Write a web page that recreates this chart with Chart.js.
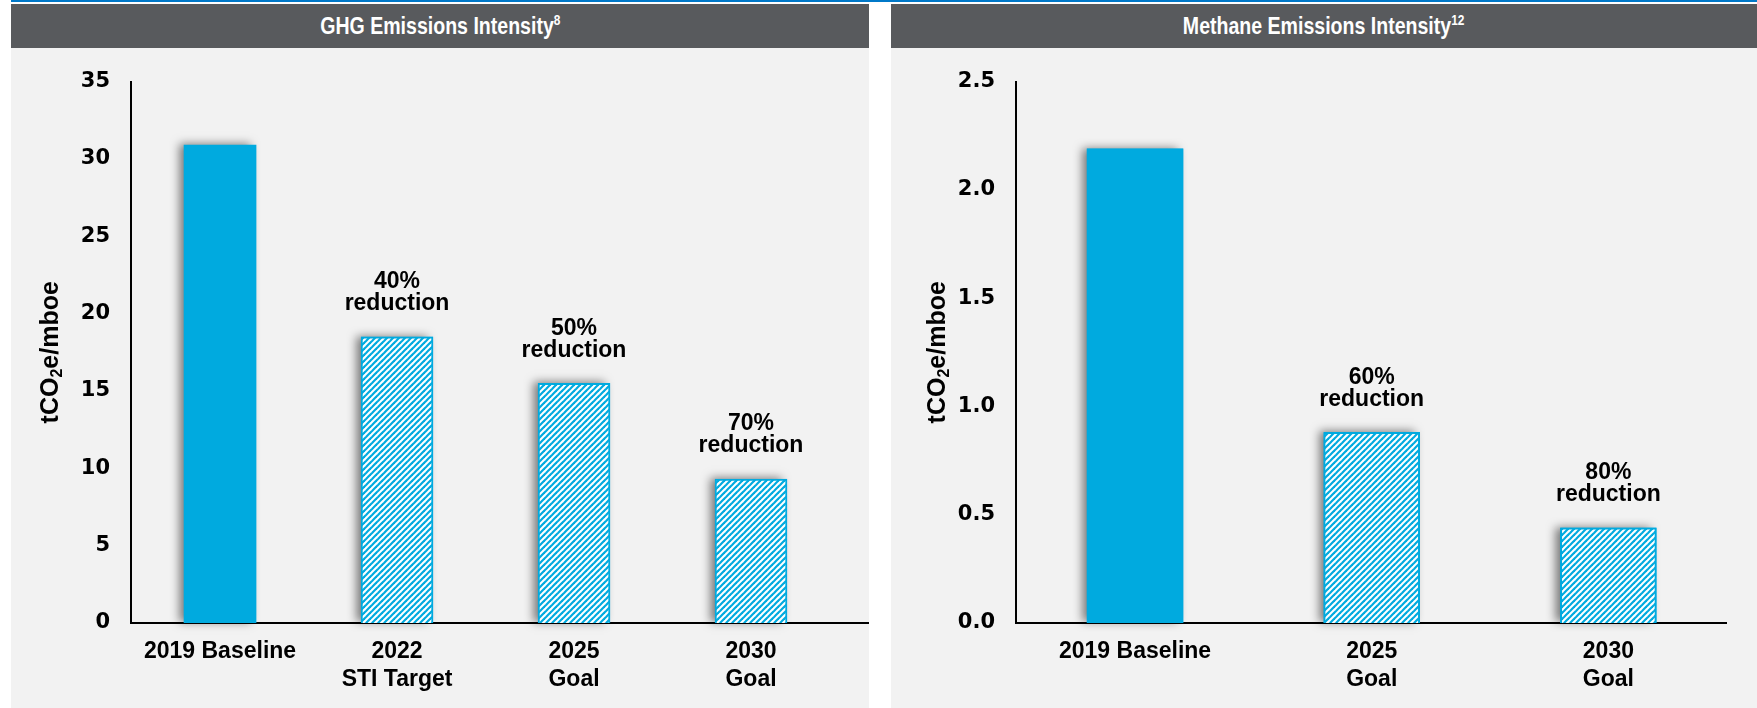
<!DOCTYPE html>
<html>
<head>
<meta charset="utf-8">
<script src="https://cdn.jsdelivr.net/npm/chart.js@4.4.1/dist/chart.umd.min.js"></script>
<style>
  body { margin: 0; width: 1757px; height: 708px; background: #fff; position: relative; overflow: hidden;
         font-family: "Liberation Sans", Arial, sans-serif; }
  #topline { position: absolute; left: 11px; top: 0; width: 1746px; height: 2px; background: #0078c8; }
  .head { position: absolute; top: 4px; height: 44px; background: #585a5d; color: #fff; font-weight: bold;
          font-size: 23px; line-height: 44px; text-align: center; }
  .head span { display: inline-block; transform: scaleX(0.85); }
  .head sup { font-size: 14px; line-height: 0; vertical-align: 9px; }
  .panel { position: absolute; top: 48px; height: 660px; background: #f2f2f2; }
  .panel canvas { position: absolute; left: 0; top: 0; }
</style>
</head>
<body>
<div id="topline"></div>
<div class="head" style="left:11px;width:858px"><span>GHG Emissions Intensity<sup>8</sup></span></div>
<div class="head" style="left:891px;width:866px"><span>Methane Emissions Intensity<sup>12</sup></span></div>
<div class="panel" style="left:11px;width:858px"><canvas id="ghg" width="858" height="660"></canvas></div>
<div class="panel" style="left:891px;width:866px"><canvas id="methane" width="866" height="660"></canvas></div>
<script>
// GHG intensity, tCO2e/mboe
const ghgCategories = [["2019 Baseline"], ["2022", "STI Target"], ["2025", "Goal"], ["2030", "Goal"]];
const ghgValues = [30.9, 18.5, 15.5, 9.3];
const ghgReductions = ["", "40%", "50%", "70%"];

// Methane intensity, tCO2e/mboe
const methaneCategories = [["2019 Baseline"], ["2025", "Goal"], ["2030", "Goal"]];
const methaneValues = [2.19, 0.88, 0.44];
const methaneReductions = ["", "60%", "80%"];

const BLUE = "#00aadf";
const FONT = "'Liberation Sans', Arial, sans-serif";

//striped fill for the target bars
function hatch() {
  const c = document.createElement("canvas");
  c.width = 6; c.height = 6;
  const g = c.getContext("2d");
  g.fillStyle = "#fff";
  g.fillRect(0, 0, 6, 6);
  g.strokeStyle = BLUE;
  g.lineWidth = 2.2;
  for (const o of [-6, 0, 6]) {
    g.beginPath();
    g.moveTo(o - 1, 7);
    g.lineTo(o + 7, -1);
    g.stroke();
  }
  return g.createPattern(c, "repeat");
}
const stripes = hatch();

//soft shadow to the left of every bar
const barShadow = {
  id: "barShadow",
  beforeDatasetsDraw(chart) {
    const ctx = chart.ctx;
    ctx.save();
    ctx.shadowColor = "rgba(0,0,0,0.5)";
    ctx.shadowBlur = 9;
    ctx.shadowOffsetX = -5;
    ctx.shadowOffsetY = -1;
    ctx.fillStyle = BLUE;
    chart.getDatasetMeta(0).data.forEach(bar => {
      ctx.fillRect(bar.x - bar.width / 2, bar.y, bar.width, bar.base - bar.y);
    });
    ctx.restore();
  }
};

//"xx% reduction" above the target bars
const reductionLabels = {
  id: "reductionLabels",
  afterDatasetsDraw(chart, args, opts) {
    const ctx = chart.ctx;
    ctx.save();
    ctx.font = "bold 23px " + FONT;
    ctx.fillStyle = "#000";
    ctx.textAlign = "center";
    ctx.textBaseline = "middle";
    chart.getDatasetMeta(0).data.forEach((bar, i) => {
      const pct = opts.labels[i];
      if (!pct) return;
      ctx.fillText(pct, bar.x, bar.y - 55);
      ctx.fillText("reduction", bar.x, bar.y - 33);
    });
    ctx.restore();
  }
};

//rotated axis title with the subscript 2
const yTitle = {
  id: "yTitle",
  afterDraw(chart, args, opts) {
    const { ctx, chartArea } = chart;
    const big = "bold 25px " + FONT;
    const small = "bold 16px " + FONT;
    ctx.save();
    ctx.font = big;
    const w1 = ctx.measureText("tCO").width;
    const w3 = ctx.measureText("e/mboe").width;
    ctx.font = small;
    const w2 = ctx.measureText("2").width;
    ctx.translate(chartArea.left - opts.offset, (chartArea.top + chartArea.bottom) / 2);
    ctx.rotate(-Math.PI / 2);
    ctx.fillStyle = "#000";
    ctx.textAlign = "left";
    ctx.textBaseline = "middle";
    let x = -(w1 + w2 + w3) / 2;
    ctx.font = big;
    ctx.fillText("tCO", x, 0);
    x += w1;
    ctx.font = small;
    ctx.fillText("2", x, 7);
    x += w2;
    ctx.font = big;
    ctx.fillText("e/mboe", x, 0);
    ctx.restore();
  }
};

function makeChart(id, cats, values, reductions, cfg) {
  return new Chart(document.getElementById(id), {
    type: "bar",
    plugins: [barShadow, reductionLabels, yTitle],
    data: {
      datasets: [{
        data: values.map((v, i) => ({ x: i, y: v })),
        backgroundColor: values.map((v, i) => i === 0 ? BLUE : stripes),
        borderColor: BLUE,
        borderWidth: values.map((v, i) => i === 0 ? 0 : 2),
        barThickness: cfg.barWidth,
      }],
    },
    options: {
      responsive: false,
      animation: false,
      devicePixelRatio: 1,
      layout: { padding: { left: 0, top: 32, right: cfg.padRight, bottom: 0 } },
      plugins: {
        legend: { display: false },
        tooltip: { enabled: false },
        reductionLabels: { labels: reductions },
        yTitle: { offset: cfg.titleOffset },
      },
      scales: {
        x: {
          type: "linear",
          offset: false,
          bounds: "data",
          min: cfg.xMin,
          max: cfg.xMax,
          afterBuildTicks: s => { s.ticks = cats.map((c, i) => ({ value: i })); },
          afterFit: s => { s.height = 85; },
          grid: { display: false, drawTicks: false },
          border: { display: true, color: "#000", width: 2 },
          ticks: {
            autoSkip: false,
            maxRotation: 0,
            padding: 15,
            color: "#000",
            font: { family: FONT, size: 23, weight: "bold", lineHeight: 1.22 },
            callback: v => cats[v],
          },
        },
        y: {
          min: 0,
          max: cfg.yMax,
          afterFit: s => { s.width = cfg.yWidth; },
          grid: { display: false, drawTicks: false },
          border: { display: true, color: "#000", width: 2 },
          ticks: {
            stepSize: cfg.step,
            padding: 21,
            color: "#000",
            font: { family: "'DejaVu Sans', sans-serif", size: 21, weight: "bold" },
            callback: cfg.tickFormat,
          },
        },
      },
    },
  });
}

makeChart("ghg", ghgCategories, ghgValues, ghgReductions, {
  barWidth: 72, padRight: 1, yWidth: 120, titleOffset: 80,
  xMin: -0.503, xMax: 3.661, yMax: 35, step: 5, tickFormat: v => v,
});

makeChart("methane", methaneCategories, methaneValues, methaneReductions, {
  barWidth: 96, padRight: 31, yWidth: 125, titleOffset: 78,
  xMin: -0.503, xMax: 2.497, yMax: 2.5, step: 0.5, tickFormat: v => v.toFixed(1),
});
</script>
</body>
</html>
